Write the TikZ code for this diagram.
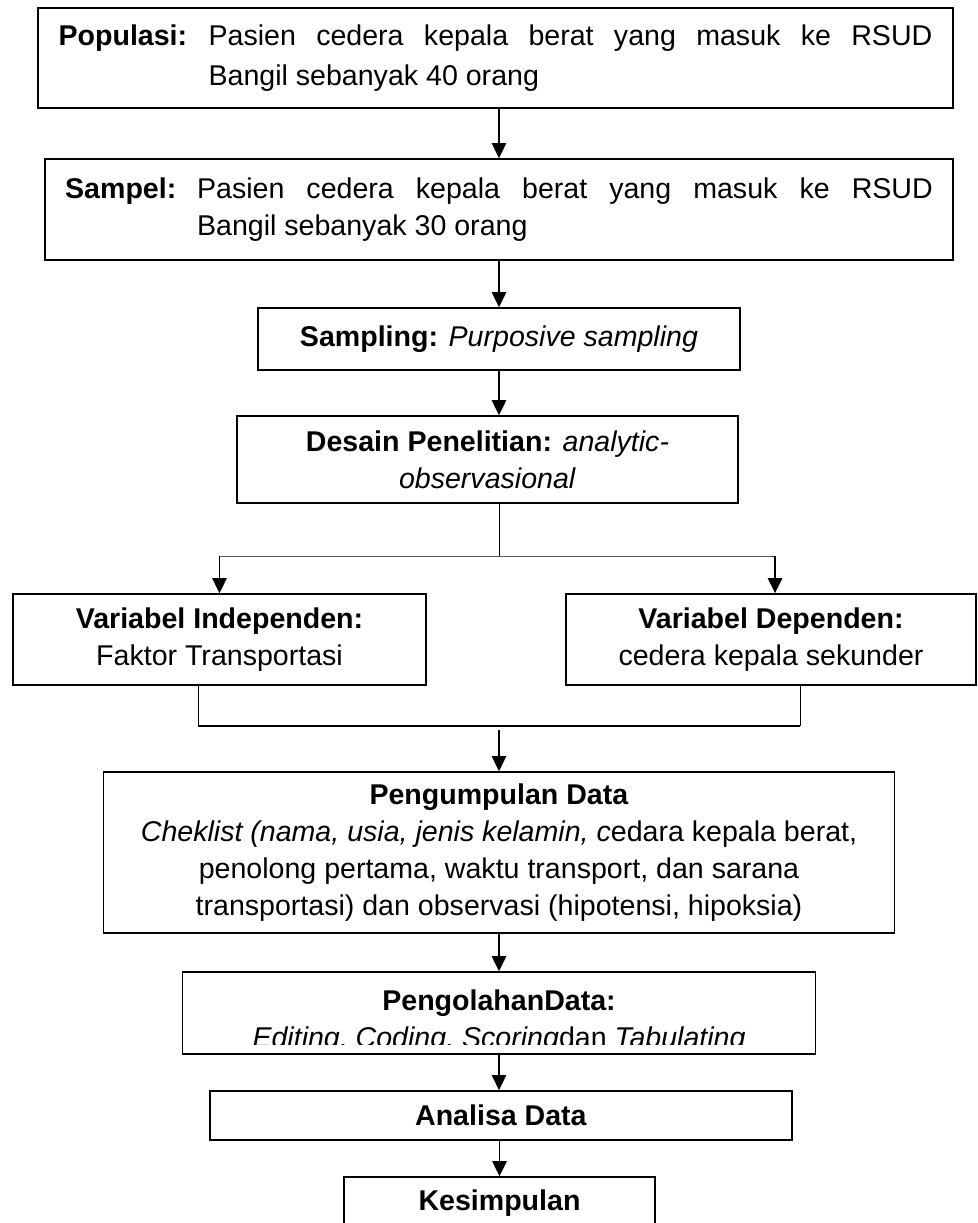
\documentclass[tikz,border=0pt]{standalone}
\usepackage{fontspec}
\setmainfont{Liberation Sans}
\usepackage{tikz}
\usetikzlibrary{arrows.meta}
\tikzstyle{kotak} = [draw, line width=0.7pt, inner sep=0pt, font=\fontsize{12}{15.5}\selectfont]
\tikzstyle{teks} = [inner sep=0pt, font=\fontsize{12}{15.5}\selectfont]
\tikzstyle{arrow} = [line width=0.7pt, -{Triangle[width=6pt,length=6.3pt]}]
\tikzstyle{garis} = [line width=0.7pt]
\tikzstyle{tipis} = [line width=0.4pt]

\begin{document}
\begin{tikzpicture}[x=0.42pt,y=-0.42pt]
\useasboundingbox (0,0) rectangle (977,1223);
\clip (0,0) rectangle (977,1223);

\node[kotak, minimum width=384.3pt, minimum height=42pt, font=\fontsize{12}{16.8}\selectfont] (pop) at (495.5,58)
  {\makebox[63pt][l]{\textbf{Populasi:}}\parbox[t]{304pt}{Pasien cedera kepala berat yang masuk ke RSUD\linebreak Bangil sebanyak 40 orang}};
\node[kotak, minimum width=381.4pt, minimum height=42.4pt] (sam) at (499,209.5)
  {\makebox[55.4pt][l]{\textbf{Sampel:}}\parbox[t]{309pt}{Pasien cedera kepala berat yang masuk ke RSUD\linebreak Bangil sebanyak 30 orang}};
\node[kotak, minimum width=202.4pt, minimum height=26pt] (smp) at (499,339) {\textbf{Sampling:} \textit{Purposive sampling}};
\node[kotak, align=center, minimum width=210.4pt, minimum height=36.5pt] (des) at (487.5,459.5)
  {\textbf{Desain Penelitian:} \textit{analytic-}\\ \textit{observasional}};

\node[kotak, align=center, minimum width=173.5pt, minimum height=38.2pt] (vi) at (219.5,639.5)
  {\textbf{Variabel Independen:}\\ Faktor Transportasi};
\node[kotak, align=center, minimum width=172.2pt, minimum height=38.2pt] (vd) at (771,639.5)
  {\textbf{Variabel Dependen:}\\ cedera kepala sekunder};

\node[kotak, align=center, minimum width=332.2pt, minimum height=67.6pt] (kum) at (499,852.5)
  {\textbf{Pengumpulan Data}\\ \textit{Cheklist (nama, usia, jenis kelamin, c}edara kepala berat,\\ penolong pertama, waktu transport, dan sarana\\ transportasi) dan observasi (hipotensi, hipoksia)};

% kotak pengolahan, baris kedua terpotong
\node[kotak, minimum width=265.9pt, minimum height=34.4pt] (olah) at (499,1013) {};
\node[teks, anchor=base] (olahjudul) at (499,1010) {\textbf{PengolahanData:}};
\begin{scope}
\clip (olah.north west) rectangle ([yshift=4.2pt]olah.south east);
\node[teks, anchor=base] (olahisi) at (499,1047) {\textit{Editing, Coding, Scoring}dan \textit{Tabulating}};
\end{scope}

\node[kotak, minimum width=244.4pt, minimum height=20.6pt] (ana) at (501,1115.5) {\textbf{Analisa Data}};
\node[kotak, minimum width=130.6pt, minimum height=21.8pt] (kes) at (499.5,1203) {\textbf{Kesimpulan}};

\coordinate (cabang) at (499,556);
\coordinate (kiri) at (198,726);
\coordinate (kanan) at (800,726);
\coordinate (gabung) at (499,726);

\draw[arrow] (pop.south -| sam.north) -- (sam.north);
\draw[arrow] (sam.south -| smp.north) -- (smp.north);
\draw[arrow] (smp.south) -- (smp.south |- des.north);
\draw[tipis] (des.south -| cabang) -- (cabang);
\draw[tipis] (cabang -| vi.north) -- (cabang -| vd.north) -- ++(1.7pt,0);
\draw[arrow] (cabang -| vi.north) -- (vi.north);
\draw[arrow] ([xshift=1.7pt]cabang -| vd.north) -- ([xshift=1.7pt]vd.north);

\draw[tipis] (vi.south -| kiri) -- (kiri);
\draw[tipis] (vd.south -| kanan) -- (kanan);
\draw[garis] (kiri) -- (kanan);
\draw[arrow] ([yshift=-1.7pt]gabung) -- (kum.north);

\draw[arrow] (kum.south) -- (olah.north);
\draw[arrow] (olah.south) -- (olah.south |- ana.north);
\draw[arrow] (ana.south -| kes.north) -- (kes.north);
\end{tikzpicture}
\end{document}
